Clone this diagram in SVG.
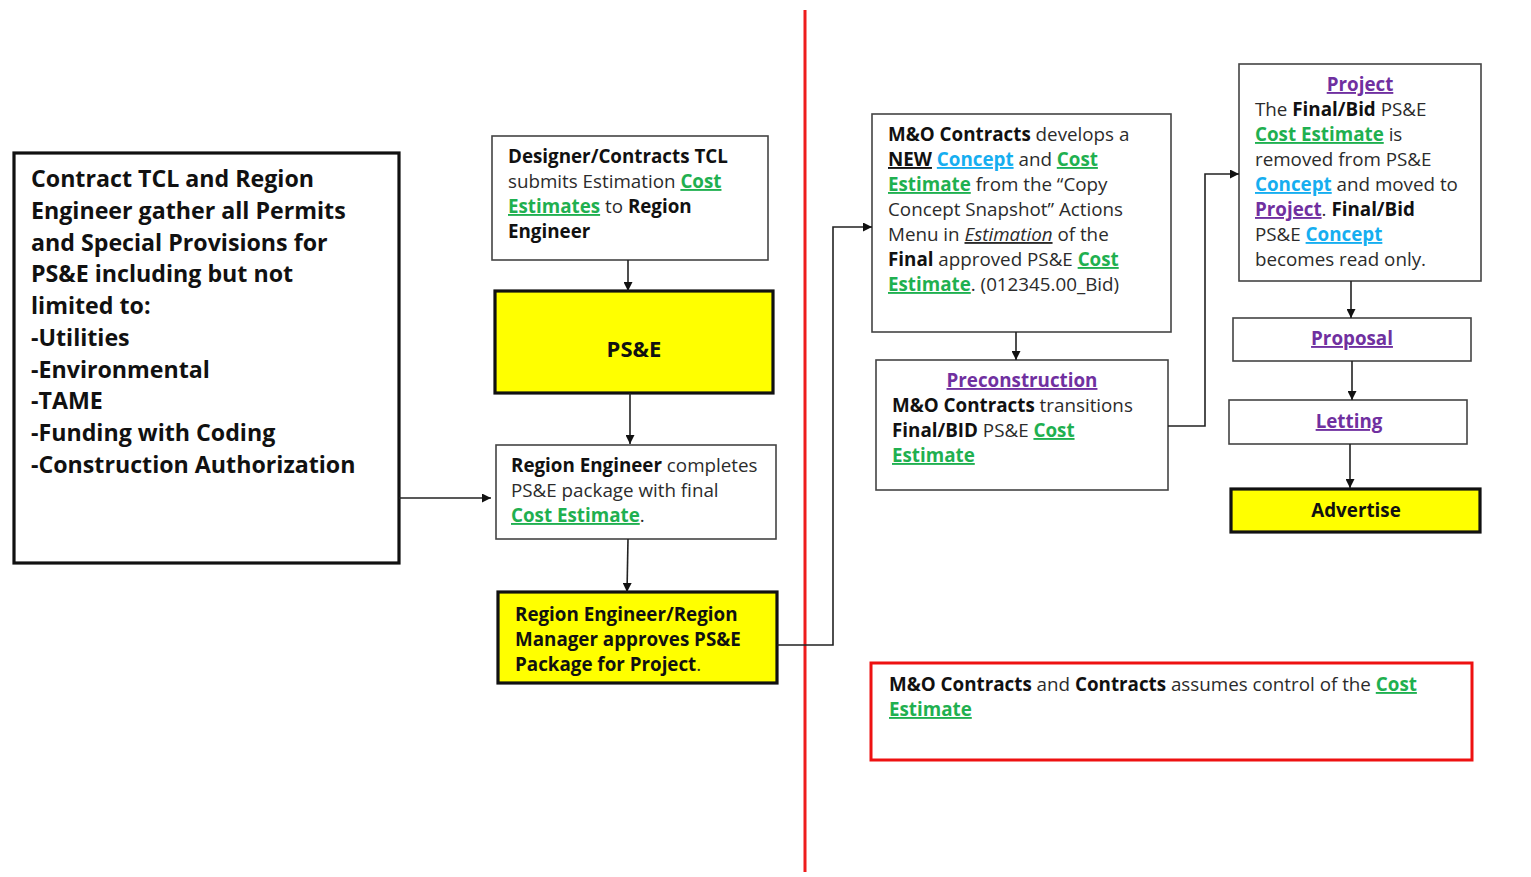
<svg xmlns="http://www.w3.org/2000/svg" width="1531" height="877" viewBox="0 0 1531 877">
<style>
text{font-family:"Open Sans",Lato,"Liberation Sans",sans-serif;font-size:18.8px;fill:#2b2b2b}
.b{font-weight:bold;fill:#111}
.big{font-size:23.2px;font-weight:bold;fill:#111}
.g{fill:#1fb050;font-weight:bold;text-decoration:underline}
.bl{fill:#16aef0;font-weight:bold;text-decoration:underline}
.p{fill:#7030a0;font-weight:bold;text-decoration:underline}
.u{text-decoration:underline}
.box{fill:#fff;stroke:#444;stroke-width:1.6}
.ybox{fill:#ffff00;stroke:#111;stroke-width:3.2}
.kbox{fill:#fff;stroke:#111;stroke-width:3.2}
.rbox{fill:#fff;stroke:#ee1111;stroke-width:3}
.c{fill:none;stroke:#222;stroke-width:1.6}
</style>
<defs>
<marker id="ah" viewBox="0 0 10 10" refX="10" refY="5" markerWidth="9" markerHeight="9" markerUnits="userSpaceOnUse" orient="auto"><path d="M0,0 L10,5 L0,10 z" fill="#111"/></marker>
</defs>
<rect width="1531" height="877" fill="#fff"/>
<line x1="805" y1="10" x2="805" y2="872" stroke="#ee1c1c" stroke-width="3"/>

<g id="n-left">
<rect class="kbox" x="14" y="153" width="385" height="410"/>
<text class="big" x="31" y="187">Contract TCL and Region</text>
<text class="big" x="31" y="219">Engineer gather all Permits</text>
<text class="big" x="31" y="251">and Special Provisions for</text>
<text class="big" x="31" y="282">PS&amp;E including but not</text>
<text class="big" x="31" y="314">limited to:</text>
<text class="big" x="31" y="346">-Utilities</text>
<text class="big" x="31" y="378">-Environmental</text>
<text class="big" x="31" y="409">-TAME</text>
<text class="big" x="31" y="441">-Funding with Coding</text>
<text class="big" x="31" y="473">-Construction Authorization</text>
</g>

<g id="n-designer">
<rect class="box" x="492" y="136" width="276" height="124"/>
<text x="508" y="163"><tspan class="b">Designer/Contracts TCL</tspan></text>
<text x="508" y="188">submits Estimation <tspan class="g">Cost</tspan></text>
<text x="508" y="213"><tspan class="g">Estimates</tspan> to <tspan class="b">Region</tspan></text>
<text x="508" y="238"><tspan class="b">Engineer</tspan></text>
</g>

<g id="n-pse">
<rect class="ybox" x="495" y="291" width="278" height="102"/>
<text x="634" y="357" text-anchor="middle" class="b" style="font-size:22px">PS&amp;E</text>
</g>

<g id="n-region">
<rect class="box" x="496" y="445" width="280" height="94"/>
<text x="511" y="472"><tspan class="b">Region Engineer</tspan> completes</text>
<text x="511" y="497">PS&amp;E package with final</text>
<text x="511" y="522"><tspan class="g">Cost Estimate</tspan>.</text>
</g>

<g id="n-approve">
<rect class="ybox" x="498" y="592" width="279" height="91"/>
<text x="515" y="621" class="b">Region Engineer/Region</text>
<text x="515" y="646" class="b">Manager approves PS&amp;E</text>
<text x="515" y="671"><tspan class="b">Package for Project</tspan>.</text>
</g>

<g id="n-mo">
<rect class="box" x="872" y="114" width="299" height="218"/>
<text x="888" y="141"><tspan class="b">M&amp;O Contracts</tspan> develops a</text>
<text x="888" y="166"><tspan class="b u">NEW</tspan> <tspan class="bl">Concept</tspan> and <tspan class="g">Cost</tspan></text>
<text x="888" y="191"><tspan class="g">Estimate</tspan> from the “Copy</text>
<text x="888" y="216">Concept Snapshot” Actions</text>
<text x="888" y="241">Menu in <tspan class="u" font-style="italic">Estimation</tspan> of the</text>
<text x="888" y="266"><tspan class="b">Final</tspan> approved PS&amp;E <tspan class="g">Cost</tspan></text>
<text x="888" y="291"><tspan class="g">Estimate</tspan>. (012345.00_Bid)</text>
</g>

<g id="n-precon">
<rect class="box" x="876" y="360" width="292" height="130"/>
<text x="1022" y="387" text-anchor="middle" class="p">Preconstruction</text>
<text x="892" y="412"><tspan class="b">M&amp;O Contracts</tspan> transitions</text>
<text x="892" y="437"><tspan class="b">Final/BID</tspan> PS&amp;E <tspan class="g">Cost</tspan></text>
<text x="892" y="462"><tspan class="g">Estimate</tspan></text>
</g>

<g id="n-project">
<rect class="box" x="1239" y="64" width="242" height="217"/>
<text x="1360" y="91" text-anchor="middle" class="p">Project</text>
<text x="1255" y="116">The <tspan class="b">Final/Bid</tspan> PS&amp;E</text>
<text x="1255" y="141"><tspan class="g">Cost Estimate</tspan> is</text>
<text x="1255" y="166">removed from PS&amp;E</text>
<text x="1255" y="191"><tspan class="bl">Concept</tspan> and moved to</text>
<text x="1255" y="216"><tspan class="p">Project</tspan>. <tspan class="b">Final/Bid</tspan></text>
<text x="1255" y="241">PS&amp;E <tspan class="bl">Concept</tspan></text>
<text x="1255" y="266">becomes read only.</text>
</g>

<g id="n-proposal">
<rect class="box" x="1233" y="318" width="238" height="43"/>
<text x="1352" y="345" text-anchor="middle" class="p">Proposal</text>
</g>

<g id="n-letting">
<rect class="box" x="1229" y="400" width="238" height="44"/>
<text x="1349" y="428" text-anchor="middle" class="p">Letting</text>
</g>

<g id="n-advertise">
<rect class="ybox" x="1231" y="489" width="249" height="43"/>
<text x="1356" y="517" text-anchor="middle" class="b">Advertise</text>
</g>

<g id="n-control">
<rect class="rbox" x="871" y="663" width="601" height="97"/>
<text x="889" y="691"><tspan class="b">M&amp;O Contracts</tspan> and <tspan class="b">Contracts</tspan> assumes control of the <tspan class="g">Cost</tspan></text>
<text x="889" y="716"><tspan class="g">Estimate</tspan></text>
</g>

<g id="connectors">
<path class="c" d="M399,498 H491" marker-end="url(#ah)"/>
<path class="c" d="M628,260 V291" marker-end="url(#ah)"/>
<path class="c" d="M630,393 V444" marker-end="url(#ah)"/>
<path class="c" d="M628,539 L627,592" marker-end="url(#ah)"/>
<path class="c" d="M777,645 H833 V227 H872" marker-end="url(#ah)"/>
<path class="c" d="M1016,332 V360" marker-end="url(#ah)"/>
<path class="c" d="M1168,426 H1205 V174 H1239" marker-end="url(#ah)"/>
<path class="c" d="M1351,281 V318" marker-end="url(#ah)"/>
<path class="c" d="M1352,361 V400" marker-end="url(#ah)"/>
<path class="c" d="M1350,444 V488" marker-end="url(#ah)"/>
</g>
</svg>
